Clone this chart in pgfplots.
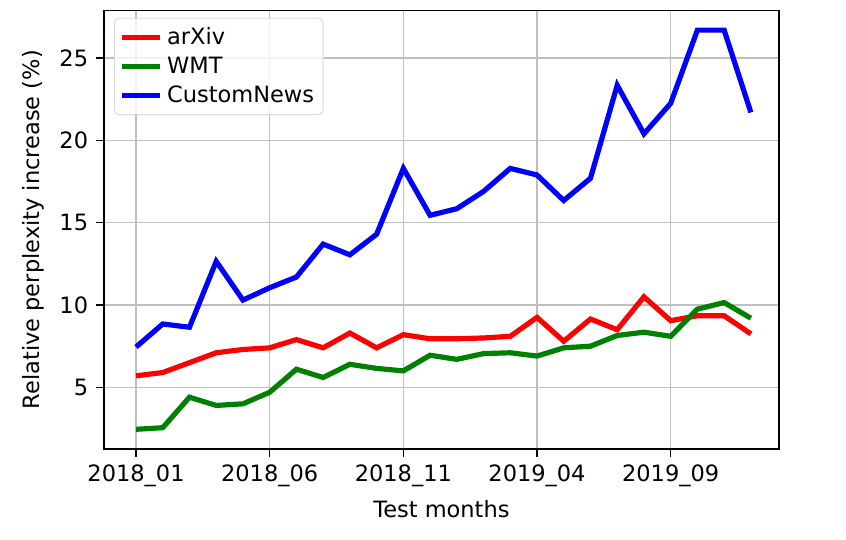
\documentclass[border=0pt]{standalone}
\usepackage{fontspec}
\setmainfont{DejaVu Sans}
\usepackage{pgfplots}
\pgfplotsset{compat=1.18}
\definecolor{mplgreen}{RGB}{0,128,0}
\begin{document}
\begin{tikzpicture}
\path[use as bounding box] (-46.2pt,-40pt) rectangle (329.8pt,199.6pt);
\begin{axis}[
  at={(0,0)}, anchor=south west,
  scale only axis,
  width=300pt, height=195pt,
  xmin=-1.2, xmax=24.05,
  ymin=1.25, ymax=27.9,
  xtick={0,5,10,15,20},
  xticklabels={2018\_01,2018\_06,2018\_11,2019\_04,2019\_09},
  ytick={5,10,15,20,25},
  tick pos=left,
  tick align=outside,
  major tick length=3.5pt,
  tick style={black, line width=0.6pt},
  axis line style={black, line width=0.6pt},
  grid=major,
  major grid style={gray!50, line width=0.6pt},
  /pgf/number format/assume math mode=true,
  ticklabel style={font=\fontsize{10}{12}\selectfont},
  label style={font=\fontsize{10}{12}\selectfont},
  xlabel={Test months},
  ylabel={Relative perplexity increase (\%)},
  xlabel style={yshift=1pt},
  legend style={font=\fontsize{10}{12}\selectfont, draw=gray!30, rounded corners=2pt, fill=white, fill opacity=0.8, text opacity=1, at={(0.015,0.983)}, anchor=north west, row sep=0pt, inner sep=2pt},
  legend cell align=left,
  legend image code/.code={\draw[#1, line width=2.3pt] (0cm,0cm) -- (0.6cm,0cm);},
]
\addplot[red, line width=2.3pt] coordinates {
(0,5.7) (1,5.9) (2,6.5) (3,7.1) (4,7.3) (5,7.4) (6,7.9) (7,7.4) (8,8.3) (9,7.4) (10,8.2) (11,7.95)
(12,7.95) (13,8.0) (14,8.1) (15,9.25) (16,7.8) (17,9.15) (18,8.5) (19,10.5) (20,9.05) (21,9.35) (22,9.35) (23,8.25)};
\addlegendentry{arXiv}
\addplot[mplgreen, line width=2.3pt] coordinates {
(0,2.45) (1,2.55) (2,4.4) (3,3.9) (4,4.0) (5,4.7) (6,6.1) (7,5.6) (8,6.4) (9,6.15) (10,6.0) (11,6.95)
(12,6.7) (13,7.05) (14,7.1) (15,6.9) (16,7.4) (17,7.5) (18,8.15) (19,8.35) (20,8.1) (21,9.75) (22,10.15) (23,9.2)};
\addlegendentry{WMT}
\addplot[blue, line width=2.3pt] coordinates {
(0,7.45) (1,8.85) (2,8.65) (3,12.65) (4,10.3) (5,11.05) (6,11.7) (7,13.7) (8,13.05) (9,14.3) (10,18.3) (11,15.45)
(12,15.85) (13,16.9) (14,18.3) (15,17.9) (16,16.35) (17,17.7) (18,23.35) (19,20.4) (20,22.25) (21,26.7) (22,26.7) (23,21.7)};
\addlegendentry{CustomNews}
\end{axis}
\end{tikzpicture}
\end{document}
